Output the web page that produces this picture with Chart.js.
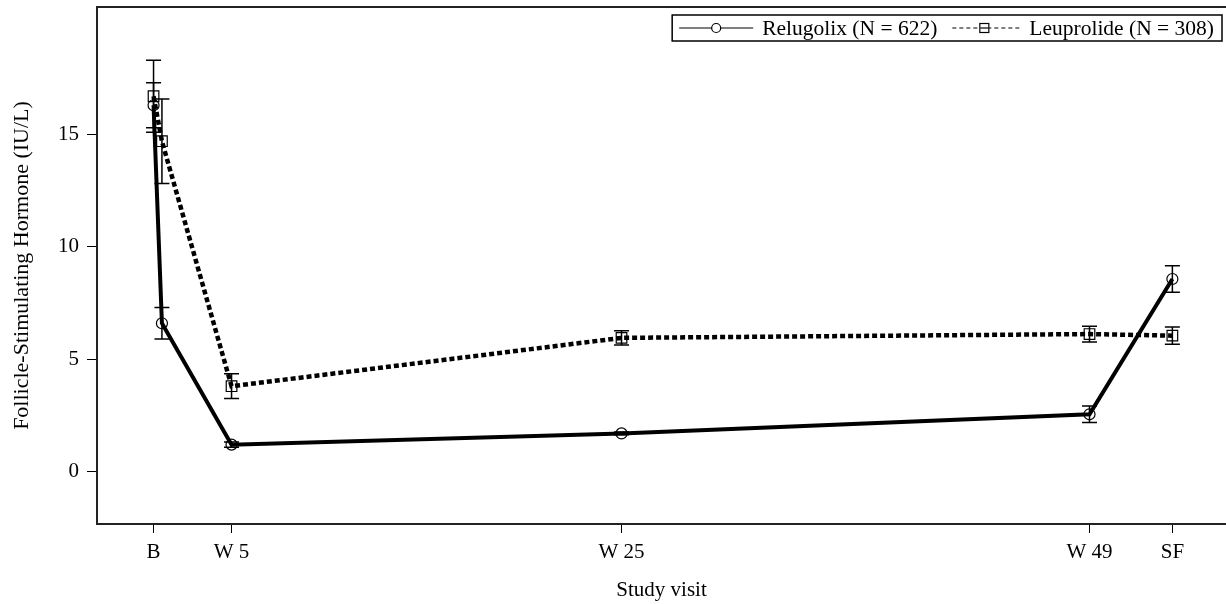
<!DOCTYPE html>
<html>
<head>
<meta charset="UTF-8">
<title>FSH by study visit</title>
<script src="https://cdn.jsdelivr.net/npm/chart.js@4.4.0/dist/chart.umd.min.js"></script>
<style>
  html, body { margin: 0; padding: 0; background: #fff; }
  #wrap { width: 1226px; height: 604px; }
</style>
</head>
<body>
<div id="wrap"><canvas id="myChart"></canvas></div>

<script>
// study week of each visit (B = day 1, then day 4, W5, W25, W49, safety follow-up)
var visitWeeks = [1, 1.43, 5, 25, 49, 53.25];
var tickWeeks  = [1, 5, 25, 49, 53.25];
var tickLabels = ['B', 'W 5', 'W 25', 'W 49', 'SF'];
var yTicks     = [0, 5, 10, 15];

var relugolixMean = [16.3, 6.6, 1.2, 1.7, 2.55, 8.57];
var relugolixErr  = [1.0, 0.7, 0.12, 0.06, 0.37, 0.59];
var leuprolideMean = [16.7, 14.7, 3.8, 5.95, 6.12, 6.05];
var leuprolideErr  = [1.6, 1.88, 0.55, 0.32, 0.35, 0.38];

var legendLabels = ['Relugolix (N = 622)', 'Leuprolide (N = 308)'];

var FONT = 'Liberation Serif';

function pts(xs, ys) {
  return xs.map(function (x, i) { return { x: x, y: ys[i] }; });
}

// chart.js reserves room for edge labels, we don't want that here
function noEdgePadding(scale) {
  scale.paddingTop = 0;
  scale.paddingBottom = 0;
  scale.paddingLeft = 0;
  scale.paddingRight = 0;
}

// error bars + frame
var errorBars = {
  id: 'errorBars',
  afterDatasetsDraw: function (chart) {
    var ctx = chart.ctx, xs = chart.scales.x, ys = chart.scales.y;
    var errs = [relugolixErr, leuprolideErr];
    var means = [relugolixMean, leuprolideMean];
    ctx.save();
    ctx.strokeStyle = '#000';
    ctx.lineWidth = 1.5;
    for (var d = 0; d < 2; d++) {
      for (var i = 0; i < visitWeeks.length; i++) {
        var px = xs.getPixelForValue(visitWeeks[i]);
        var top = ys.getPixelForValue(means[d][i] + errs[d][i]);
        var bot = ys.getPixelForValue(means[d][i] - errs[d][i]);
        ctx.beginPath();
        ctx.moveTo(px, top); ctx.lineTo(px, bot);
        ctx.moveTo(px - 7.5, top); ctx.lineTo(px + 7.5, top);
        ctx.moveTo(px - 7.5, bot); ctx.lineTo(px + 7.5, bot);
        ctx.stroke();
      }
    }
    var a = chart.chartArea;
    ctx.lineWidth = 2;
    ctx.strokeStyle = '#222';
    ctx.strokeRect(a.left, a.top, a.right - a.left + 2, a.bottom - a.top);
    ctx.restore();
  }
};

// legend box drawn by hand: line sample with marker, then text
var boxLegend = {
  id: 'boxLegend',
  afterDraw: function (chart) {
    var ctx = chart.ctx;
    ctx.save();
    ctx.font = '21.5px "' + FONT + '"';
    var w1 = ctx.measureText(legendLabels[0]).width;
    var w2 = ctx.measureText(legendLabels[1]).width;
    var right = 1222, top = 15, h = 26;
    var width = 7 + 74 + 9 + w1 + 15 + 70 + 7 + w2 + 8;
    var left = right - width;
    var cy = top + h / 2;
    ctx.fillStyle = '#fff';
    ctx.fillRect(left, top, width, h);
    ctx.strokeStyle = '#000';
    ctx.lineWidth = 1.5;
    ctx.strokeRect(left, top, width, h);

    ctx.lineWidth = 1.2;
    var x = left + 7;
    ctx.beginPath();
    ctx.moveTo(x, cy); ctx.lineTo(x + 74, cy);
    ctx.stroke();
    ctx.beginPath();
    ctx.arc(x + 37, cy, 4.5, 0, Math.PI * 2);
    ctx.fillStyle = '#fff';
    ctx.fill();
    ctx.stroke();
    x += 74 + 9;
    ctx.fillStyle = '#000';
    ctx.textBaseline = 'middle';
    ctx.fillText(legendLabels[0], x, cy + 1);
    x += w1 + 15;
    ctx.setLineDash([4, 3]);
    ctx.beginPath();
    ctx.moveTo(x, cy); ctx.lineTo(x + 70, cy);
    ctx.stroke();
    ctx.setLineDash([]);
    ctx.fillStyle = '#fff';
    ctx.fillRect(x + 32 - 4.5, cy - 4.5, 9, 9);
    ctx.strokeRect(x + 32 - 4.5, cy - 4.5, 9, 9);
    ctx.beginPath();
    ctx.moveTo(x + 28, cy); ctx.lineTo(x + 36, cy);
    ctx.stroke();
    x += 70 + 7;
    ctx.fillStyle = '#000';
    ctx.fillText(legendLabels[1], x, cy + 1);
    ctx.restore();
  }
};

var config = {
  type: 'line',
  data: {
    datasets: [{
      label: legendLabels[0],
      data: pts(visitWeeks, relugolixMean),
      borderColor: '#000',
      borderWidth: 4,
      pointStyle: 'circle',
      pointRadius: 5.5,
      pointBorderWidth: 1.2,
      pointBorderColor: '#000',
      pointBackgroundColor: 'rgba(0,0,0,0)',
      tension: 0
    }, {
      label: legendLabels[1],
      data: pts(visitWeeks, leuprolideMean),
      borderColor: '#000',
      borderWidth: 4.5,
      borderDash: [5, 3],
      pointStyle: 'rect',
      pointRadius: 7.5,
      pointBorderWidth: 1.2,
      pointBorderColor: '#000',
      pointBackgroundColor: 'rgba(0,0,0,0)',
      tension: 0
    }]
  },
  options: {
    responsive: true,
    maintainAspectRatio: false,
    animation: false,
    layout: { autoPadding: false, padding: { top: 7, right: 0, bottom: 0, left: 0 } },
    plugins: {
      legend: { display: false },
      tooltip: { enabled: false }
    },
    scales: {
      x: {
        type: 'linear',
        min: -1.9,
        max: 56,
        afterBuildTicks: function (scale) {
          scale.ticks = tickWeeks.map(function (v) { return { value: v }; });
        },
        afterFit: function (scale) { scale.height = 80; noEdgePadding(scale); },
        ticks: {
          autoSkip: false,
          maxRotation: 0,
          padding: 7,
          color: '#000',
          font: { family: FONT, size: 21 },
          callback: function (value, index) { return tickLabels[index]; }
        },
        grid: { drawOnChartArea: false, tickLength: 9, tickColor: '#000', tickWidth: 1 },
        border: { display: false },
        title: {
          display: true,
          text: 'Study visit',
          color: '#000',
          font: { family: FONT, size: 21 },
          padding: { top: 0, bottom: 1 }
        }
      },
      y: {
        min: -2.33,
        max: 20.67,
        afterBuildTicks: function (scale) {
          scale.ticks = yTicks.map(function (v) { return { value: v }; });
        },
        afterFit: function (scale) { scale.width = 97; noEdgePadding(scale); },
        ticks: {
          padding: 8,
          color: '#000',
          font: { family: FONT, size: 21 }
        },
        grid: { drawOnChartArea: false, tickLength: 10, tickColor: '#000', tickWidth: 1 },
        border: { display: false },
        title: {
          display: true,
          text: 'Follicle-Stimulating Hormone (IU/L)',
          color: '#000',
          font: { family: FONT, size: 22 },
          padding: { top: 9, bottom: 0 }
        }
      }
    }
  },
  plugins: [errorBars, boxLegend]
};

var ctx = document.getElementById('myChart').getContext('2d');
var myChart = new Chart(ctx, config);
</script>
</body>
</html>
